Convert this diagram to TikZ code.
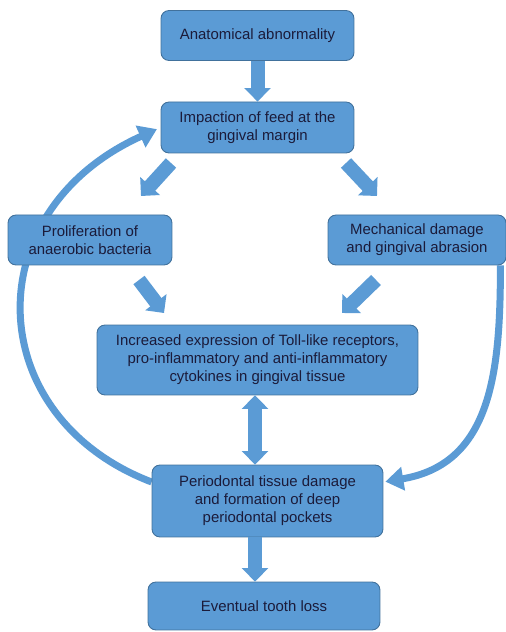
\documentclass[tikz,border=0pt]{standalone}
\usepackage{fontspec}
\setmainfont{Liberation Sans}
\usetikzlibrary{arrows.meta, backgrounds}
\usepackage{xcolor}
\definecolor{boxblue}{HTML}{5B9BD5}
\definecolor{boxedge}{HTML}{41719C}
\definecolor{textnavy}{HTML}{1B1B3A}
\def\px{0.02cm}

\begin{document}
\begin{tikzpicture}[x=\px, y=\px, font=\fontsize{8.5}{10.2}\selectfont]
    \tikzstyle{box}=[draw=boxedge, fill=boxblue, rounded corners=0.16cm, inner sep=0pt, align=center, text=textnavy, line width=0.5pt]
    \tikzstyle{block}=[boxblue, line width=0.28cm, -{Triangle[width=0.52cm, length=0.27cm]}]
    \tikzstyle{feedback}=[boxblue, line width=0.14cm, -{Triangle[width=0.46cm, length=0.36cm]}]

    \useasboundingbox (0,0) rectangle (506,632);

    \node[box, minimum width=3.86cm, minimum height=1.0cm] (anat) at (257.5,596.5) {Anatomical abnormality};
    \node[box, minimum width=3.86cm, minimum height=1.02cm] (feed) at (257.5,504.5) {Impaction of feed at the\\gingival margin};
    \node[box, minimum width=3.28cm, minimum height=1.0cm] (bact) at (90,392) {Proliferation of\\anaerobic bacteria};
    \node[box, minimum width=3.56cm, minimum height=1.0cm] (mech) at (417,392) {Mechanical damage\\and gingival abrasion};
    \node[box, minimum width=6.42cm, minimum height=1.4cm] (tlr) at (257.5,272) {Increased expression of Toll-like receptors,\\pro-inflammatory and anti-inflammatory\\cytokines in gingival tissue};
    \node[box, minimum width=4.62cm, minimum height=1.44cm] (perio) at (267.5,131) {Periodontal tissue damage\\and formation of deep\\periodontal pockets};
    \node[box, minimum width=4.64cm, minimum height=0.96cm] (loss) at (264,26) {Eventual tooth loss};

    % ends of the slanted arrows
    \coordinate (axis) at (255,0);
    \coordinate (d1s) at (171,469);
    \coordinate (d1e) at (141,436);
    \coordinate (d2s) at (346,469);
    \coordinate (d2e) at (377,436);
    \coordinate (d3s) at (139,352);
    \coordinate (d3e) at (164,319);
    \coordinate (d4s) at (376,352);
    \coordinate (d4e) at (342,319);

    \draw[block] (anat.south) -- (feed.north);
    \draw[block] (d1s) -- (d1e);
    \draw[block] (d2s) -- (d2e);
    \draw[block] (d3s) -- (d3e);
    \draw[block] (d4s) -- (d4e);
    \draw[block, {Triangle[width=0.52cm, length=0.27cm]}-{Triangle[width=0.52cm, length=0.27cm]}] (tlr.south -| axis) -- (perio.north -| axis);
    \draw[block] (perio.south -| axis) -- (loss.north -| axis);

    \begin{scope}[on background layer]
        \draw[feedback, shorten >=0.08cm] ([yshift=0.38cm]perio.west) .. controls +(-170,65) and +(-186,-84) .. (feed.west);
        \draw[feedback, shorten >=0.04cm] ([xshift=-0.12cm]mech.south east) .. controls +(0,-107) and +(108,18) .. ([yshift=0.38cm]perio.east);
    \end{scope}
\end{tikzpicture}
\end{document}
